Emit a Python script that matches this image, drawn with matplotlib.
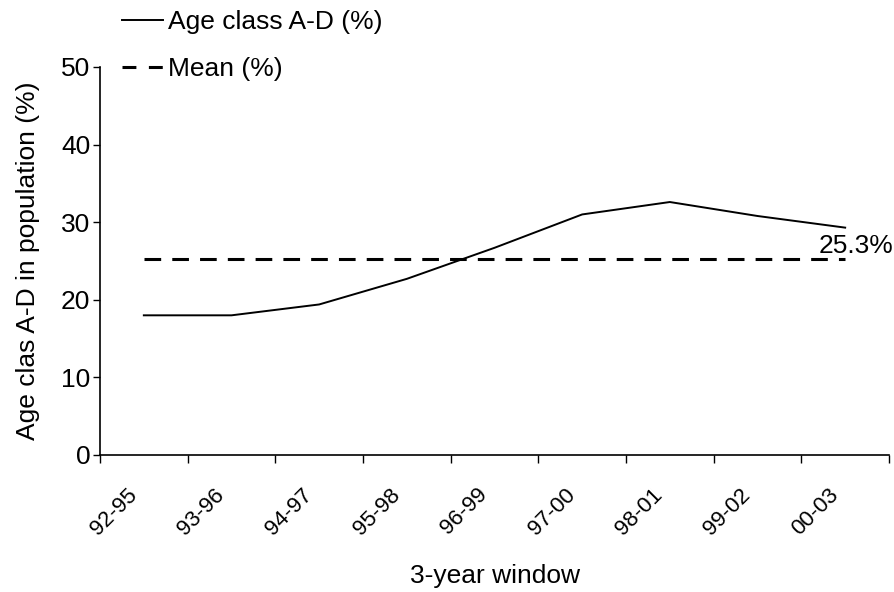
import matplotlib
matplotlib.use("Agg")
import matplotlib.pyplot as plt
from matplotlib.lines import Line2D

plt.rcParams['font.family'] = ['Liberation Sans', 'DejaVu Sans']
plt.rcParams['lines.scale_dashes'] = False

windows = ["92-95", "93-96", "94-97", "95-98", "96-99", "97-00", "98-01", "99-02", "00-03"]
age_ad = [18.0, 18.0, 19.4, 22.7, 26.7, 31.0, 32.6, 30.8, 29.3]
mean_val = 25.3
yticks = [0, 10, 20, 30, 40, 50]

FS = 19
fig = plt.figure(figsize=(8.94, 5.92), dpi=100)
ax = fig.add_axes([100/894, 1-455/592, 789/894, 388/592])

x = list(range(len(windows)))
ax.plot(x, age_ad, color='black', lw=1.4, solid_joinstyle='miter')
ax.plot(x, [mean_val]*len(x), color='black', lw=2.2, dashes=(12, 8))
ax.annotate(f"{mean_val}%", xy=(x[-1], mean_val), xytext=(-19, 4),
            textcoords='offset points', ha='left', va='baseline', fontsize=FS)

ax.set_xlim(-0.5, len(windows)-0.5)
ax.set_ylim(0, 50)
ax.set_yticks(yticks)
ax.set_yticklabels([str(v) for v in yticks], fontsize=FS)
ax.set_xticks([i-0.5 for i in range(len(windows)+1)])
ax.set_xticklabels([])
# category labels, shifted slightly left of the category centre like the original
ax.set_xticks([i - 0.2 for i in x], minor=True)
ax.set_xticklabels(windows, minor=True, rotation=45, ha='right', va='top',
                   rotation_mode='anchor', fontsize=16)
ax.tick_params(axis='x', which='minor', length=0, pad=21)
ax.tick_params(axis='x', which='major', length=6, width=1, direction='out')
ax.tick_params(axis='y', length=5, width=1, direction='out', pad=2)
for s in ['top', 'right']:
    ax.spines[s].set_visible(False)
for s in ['left', 'bottom']:
    ax.spines[s].set_linewidth(1.2)

ax.set_xlabel("3-year window", fontsize=FS)
ax.xaxis.set_label_coords(0.5, (455-576)/388)
ax.xaxis.label.set_va('center')
ax.set_ylabel("Age clas A-D in population (%)", fontsize=FS)
ax.yaxis.set_label_coords((28-100)/789, 0.5)
ax.yaxis.label.set_va('center')

handles = [Line2D([], [], color='black', lw=1.4),
           Line2D([], [], color='black', lw=2.2, dashes=(10, 9))]
fig.legend(handles, ["Age class A-D (%)", "Mean (%)"], loc='upper left',
           bbox_to_anchor=(122/894, 1-10/592), frameon=False, fontsize=FS,
           handlelength=1.55, handletextpad=0.2, labelspacing=0.87,
           borderpad=0, borderaxespad=0)

fig.savefig("out.png", dpi=100)
